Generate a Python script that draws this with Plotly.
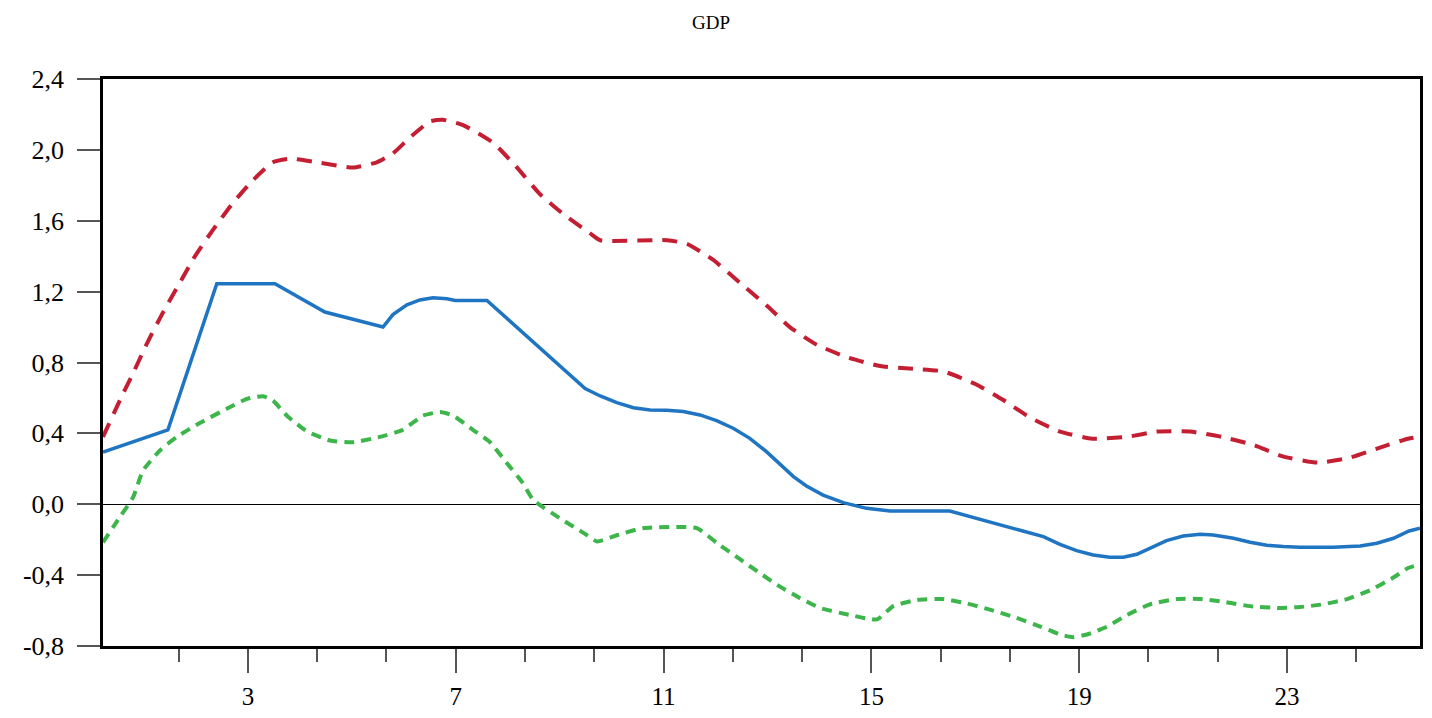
import plotly.graph_objects as go

# horizon positions (axis units) and values
median_x = [0.21, 1.46, 2.40, 3.52, 4.48, 5.60, 5.79, 6.06, 6.31, 6.56, 6.83, 6.99, 7.60,
            7.85, 9.49, 9.78, 10.10, 10.42, 10.74, 11.06, 11.38, 11.70, 12.02, 12.34,
            12.66, 12.98, 13.30, 13.50, 13.75, 14.07, 14.46, 14.91, 15.36, 16.51,
            18.31, 18.63, 18.95, 19.27, 19.59, 19.85, 20.11, 20.36, 20.68, 21.00,
            21.33, 21.58, 21.97, 22.29, 22.61, 22.93, 23.25, 23.89, 24.41, 24.73,
            25.05, 25.35, 25.56]
median_y = [0.295, 0.42, 1.245, 1.245, 1.085, 1.00, 1.07, 1.125, 1.153, 1.165, 1.16, 1.15, 1.15,
            1.085, 0.653, 0.611, 0.573, 0.545, 0.532, 0.530, 0.523, 0.504, 0.472, 0.429,
            0.372, 0.297, 0.212, 0.156, 0.103, 0.052, 0.009, -0.023, -0.038, -0.038,
            -0.183, -0.226, -0.262, -0.286, -0.299, -0.299, -0.282, -0.248, -0.205, -0.179,
            -0.169, -0.173, -0.192, -0.214, -0.231, -0.239, -0.243, -0.243, -0.235, -0.220,
            -0.192, -0.151, -0.135]

upper_x = [0.21, 0.54, 0.79, 1.06, 1.36, 1.65, 1.98, 2.33, 2.71, 3.10, 3.48, 3.81,
           4.33, 5.02, 5.48, 5.79, 6.12, 6.50, 6.75, 7.14, 7.72, 8.18, 8.62, 9.06,
           9.58, 9.78, 11.07, 11.45, 11.95, 12.47, 12.99, 13.43, 13.95, 14.53,
           15.17, 15.80, 16.38, 16.99, 17.53, 18.05, 18.63, 19.25, 19.92, 20.50,
           21.13, 21.75, 22.35, 22.92, 23.58, 24.17, 24.79, 25.33, 25.56]
upper_y = [0.38, 0.59, 0.74, 0.91, 1.08, 1.23, 1.40, 1.55, 1.70, 1.83, 1.93, 1.95,
           1.93, 1.90, 1.93, 1.98, 2.07, 2.16, 2.17, 2.14, 2.04, 1.90, 1.75, 1.64,
           1.53, 1.49, 1.49, 1.47, 1.38, 1.25, 1.12, 1.00, 0.90, 0.83,
           0.78, 0.765, 0.75, 0.68, 0.59, 0.49, 0.41, 0.37, 0.38, 0.41,
           0.41, 0.38, 0.335, 0.27, 0.235, 0.26, 0.32, 0.37, 0.38]

lower_x = [0.21, 0.54, 0.79, 0.98, 1.31, 1.63, 2.08, 2.60, 2.98, 3.29, 3.48, 3.75,
           4.14, 4.58, 5.02, 5.54, 5.98, 6.37, 6.70, 6.95, 7.33, 7.66, 7.99, 8.29,
           8.49, 9.01, 9.45, 9.72, 10.10, 10.60, 11.64, 12.03, 12.47, 12.86, 13.24,
           13.63, 14.01, 14.59, 15.11, 15.42, 15.88, 16.38, 16.84, 17.28, 17.73,
           18.25, 18.63, 18.88, 19.15, 19.54, 19.92, 20.36, 20.88, 21.33, 21.77,
           22.29, 22.81, 23.25, 23.69, 24.16, 24.60, 25.04, 25.33, 25.56]
lower_y = [-0.215, -0.07, 0.04, 0.19, 0.305, 0.38, 0.46, 0.54, 0.595, 0.61, 0.585, 0.50,
           0.41, 0.36, 0.35, 0.38, 0.42, 0.50, 0.52, 0.50, 0.42, 0.35, 0.23, 0.12,
           0.025, -0.08, -0.16, -0.21, -0.175, -0.135, -0.135, -0.22, -0.31, -0.39, -0.465,
           -0.53, -0.585, -0.625, -0.65, -0.575, -0.54, -0.535, -0.56, -0.595, -0.635,
           -0.69, -0.735, -0.75, -0.735, -0.69, -0.625, -0.565, -0.535, -0.535, -0.55,
           -0.575, -0.585, -0.58, -0.565, -0.535, -0.485, -0.415, -0.36, -0.34]

x_labels = [3, 7, 11, 15, 19, 23]
x_minor = [1 + 2 / 3 + k * 4 / 3 for k in range(18)]
y_ticks = [-0.8, -0.4, 0.0, 0.4, 0.8, 1.2, 1.6, 2.0, 2.4]

FONT = "Liberation Serif"

fig = go.Figure()

fig.add_trace(go.Scatter(
    x=upper_x, y=upper_y, mode="lines",
    line=dict(color="#c41e32", width=4, dash="15px,10px", shape="spline", smoothing=0.5),
    showlegend=False, hoverinfo="skip"
))
fig.add_trace(go.Scatter(
    x=lower_x, y=lower_y, mode="lines",
    line=dict(color="#3cb54a", width=4, dash="10px,7px", shape="spline", smoothing=0.5),
    showlegend=False, hoverinfo="skip"
))
fig.add_trace(go.Scatter(
    x=median_x, y=median_y, mode="lines",
    line=dict(color="#1f75c2", width=3.5),
    showlegend=False, hoverinfo="skip"
))

fig.update_xaxes(
    range=[0.21, 25.56], automargin=False,
    tickmode="array", tickvals=x_labels, ticktext=[str(v) for v in x_labels],
    ticks="outside", ticklen=24, tickwidth=1.5, tickcolor="#555555",
    ticklabelstandoff=2,
    minor=dict(tickmode="array", tickvals=x_minor, ticks="outside",
               ticklen=13, tickwidth=1.5, tickcolor="#555555", showgrid=False),
    showgrid=False, zeroline=False,
    showline=True, linecolor="black", linewidth=2.5, mirror=True,
    tickfont=dict(family=FONT, size=25, color="black"),
)
fig.update_yaxes(
    range=[-0.8, 2.4], automargin=False,
    tickmode="array", tickvals=y_ticks,
    ticktext=[f"{v:.1f}".replace(".", ",") for v in y_ticks],
    ticks="outside", ticklen=23, tickwidth=1.5, tickcolor="#555555",
    ticklabelstandoff=8,
    showgrid=False,
    zeroline=True, zerolinecolor="black", zerolinewidth=1,
    showline=True, linecolor="black", linewidth=2.5, mirror=True,
    tickfont=dict(family=FONT, size=26, color="black"),
)

# page body keeps its default 8px margin, so margins are offset by it
fig.update_layout(
    title=dict(text="GDP", x=0.4965, xref="container", y=0.9803, yref="container",
               xanchor="center", yanchor="middle",
               font=dict(family=FONT, size=19, color="black")),
    width=1416, height=710,
    margin=dict(l=95, r=4, t=71, b=72),
    plot_bgcolor="white", paper_bgcolor="white",
)

fig.write_html("out.html")
